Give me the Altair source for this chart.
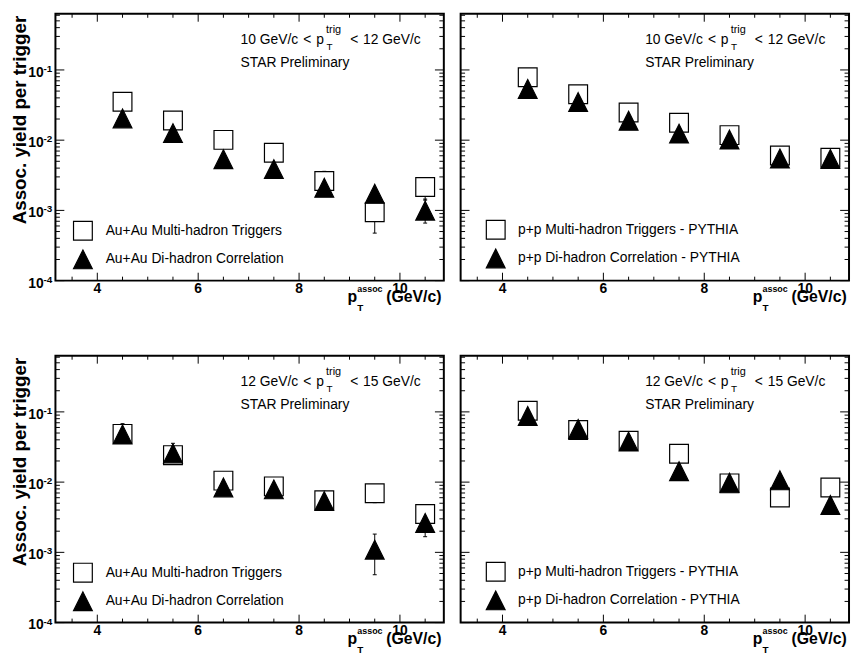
import altair as alt
import pandas as pd

# ---------------- data ----------------
pt_assoc = [4.5, 5.5, 6.5, 7.5, 8.5, 9.5, 10.5]

auau_1012_multi = [0.0353, 0.0191, 0.0101, 0.00663, 0.00262, 0.00094, 0.00215]
auau_1012_di = [0.0204, 0.0126, 0.00535, 0.00387, 0.0021, 0.00173, 0.00099]
pp_1012_multi = [0.0787, 0.045, 0.0248, 0.0177, 0.0118, 0.00604, 0.00562]
pp_1012_di = [0.0537, 0.0349, 0.0189, 0.0124, 0.0102, 0.00548, 0.0054]
auau_1215_multi = [0.0486, 0.0242, 0.0105, 0.0087, 0.00552, 0.00694, 0.00352]
auau_1215_di = [0.0478, 0.0256, 0.0084, 0.00788, 0.00537, 0.00109, 0.00262]
pp_1215_multi = [0.104, 0.0552, 0.0387, 0.0254, 0.0096, 0.00603, 0.0084]
pp_1215_di = [0.0873, 0.057, 0.0378, 0.0143, 0.0098, 0.0106, 0.00472]

# visible error bars (x, low, high)
auau_1012_err_x = [8.5, 9.5, 10.5, 10.5]
auau_1012_err_lo = [0.0019, 0.000475, 0.0014, 0.00066]
auau_1012_err_hi = [0.0036, 0.0013, 0.0029, 0.00145]
auau_1215_err_x = [4.5, 5.5, 8.5, 9.5, 9.5, 10.5, 10.5]
auau_1215_err_lo = [0.04, 0.02, 0.004, 0.0051, 0.00048, 0.0026, 0.00167]
auau_1215_err_hi = [0.068, 0.0357, 0.0074, 0.009, 0.00182, 0.0047, 0.00366]

x_major = [4, 6, 8, 10]
x_major_labels = ["4", "6", "8", "10"]
x_minor = [3.5, 4.5, 5, 5.5, 6.5, 7, 7.5, 8.5, 9, 9.5, 10.5]
y_major = [1e-4, 1e-3, 1e-2, 1e-1]
y_major_exp = ["-4", "-3", "-2", "-1"]
y_minor = [2e-4, 3e-4, 4e-4, 5e-4, 6e-4, 7e-4, 8e-4, 9e-4,
           2e-3, 3e-3, 4e-3, 5e-3, 6e-3, 7e-3, 8e-3, 9e-3,
           2e-2, 3e-2, 4e-2, 5e-2, 6e-2, 7e-2, 8e-2, 9e-2,
           2e-1, 3e-1, 4e-1, 5e-1, 6e-1]

auau_labels = ["Au+Au Multi-hadron Triggers", "Au+Au Di-hadron Correlation"]
pp_labels = ["p+p Multi-hadron Triggers - PYTHIA", "p+p Di-hadron Correlation - PYTHIA"]
trig_ranges = [("10", "12"), ("12", "15")]

# ---------------- style ----------------
W, H = 393, 270
XD = [3.17, 10.87]
YD = [1e-4, 0.63]
FONT = "Liberation Sans"
SQ = "M-1,-1L1,-1L1,1L-1,1Z"
TRI = "M0,-1L1,1L-1,1Z"
one = pd.DataFrame({"k": [0]})


def xs(field="x"):
    return alt.X(f"{field}:Q", scale=alt.Scale(domain=XD, nice=False, zero=False), axis=None)


def ys(field="y"):
    return alt.Y(f"{field}:Q", scale=alt.Scale(type="log", domain=YD, nice=False), axis=None)


def txt(s, x, y, size=14, bold=False, align="left", angle=0):
    return alt.Chart(one).mark_text(
        text=s, font=FONT, fontSize=size, fontWeight="bold" if bold else "normal",
        align=align, baseline="alphabetic", color="black", angle=angle
    ).encode(x=alt.value(x), y=alt.value(y))


def ticks():
    layers = []
    for vals, L in [(x_major, 8), (x_minor, 4)]:
        d = pd.DataFrame({"v": vals})
        layers.append(alt.Chart(d).mark_rule(color="black", strokeWidth=1).encode(
            x=xs("v"), y=alt.value(H), y2=alt.value(H - L)))
        layers.append(alt.Chart(d).mark_rule(color="black", strokeWidth=1).encode(
            x=xs("v"), y=alt.value(0), y2=alt.value(L)))
    for vals, L in [(y_major, 9), (y_minor, 4.5)]:
        d = pd.DataFrame({"v": vals})
        layers.append(alt.Chart(d).mark_rule(color="black", strokeWidth=1).encode(
            y=ys("v"), x=alt.value(0), x2=alt.value(L)))
        layers.append(alt.Chart(d).mark_rule(color="black", strokeWidth=1).encode(
            y=ys("v"), x=alt.value(W), x2=alt.value(W - L)))
    return layers


def panel(multi, di, labels, trig, err, left, leg_pos, x0):
    layers = ticks()
    if err is not None:
        de = pd.DataFrame({"x": err[0], "lo": err[1], "hi": err[2]})
        layers.append(alt.Chart(de).mark_rule(color="black", strokeWidth=1).encode(
            x=xs(), y=ys("lo"), y2="hi:Q"))
        for f in ["lo", "hi"]:
            layers.append(alt.Chart(de).mark_tick(color="black", orient="horizontal",
                                                  size=4, thickness=1, opacity=1).encode(
                x=xs(), y=ys(f)))
    dp = pd.DataFrame({"x": pt_assoc * 2, "y": multi + di,
                       "s": [labels[0]] * len(pt_assoc) + [labels[1]] * len(pt_assoc)})
    leg = alt.Legend(orient="none", legendX=leg_pos[0], legendY=leg_pos[1], direction="vertical",
                     title=None, labelFont=FONT, labelFontSize=14, labelColor="black",
                     labelLimit=400, symbolSize=361, symbolStrokeWidth=1.2,
                     symbolStrokeColor="black", symbolOpacity=1, rowPadding=4,
                     labelOffset=leg_pos[2], padding=0)
    layers.append(alt.Chart(dp).mark_point(filled=True, size=361, opacity=1,
                                           strokeWidth=1.2).encode(
        x=xs(), y=ys(),
        shape=alt.Shape("s:N", scale=alt.Scale(domain=labels, range=[SQ, TRI]), legend=leg),
        fill=alt.Fill("s:N", scale=alt.Scale(domain=labels, range=["white", "black"]), legend=leg),
        stroke=alt.Stroke("s:N", scale=alt.Scale(domain=labels, range=["black", "black"]), legend=leg),
        order=alt.Order("s:N", sort="descending" if labels[0] > labels[1] else "ascending"),
    ))
    # annotation
    layers += [
        txt(f"{trig[0]} GeV/c", x0, 30.5),
        txt("<", x0 + 63.5, 30.5),
        txt("p", x0 + 76.5, 30.5),
        txt("trig", x0 + 86.5, 19.3, size=11),
        txt("T", x0 + 87, 37, size=10),
        txt("<", x0 + 111, 30.5),
        txt(f"{trig[1]} GeV/c", x0 + 124, 30.5),
        txt("STAR Preliminary", x0, 54),
    ]
    # x tick labels and title
    dxl = pd.DataFrame({"v": x_major, "t": x_major_labels})
    layers.append(alt.Chart(dxl).mark_text(font=FONT, fontSize=14, fontWeight="bold", align="center",
                                           baseline="alphabetic", color="black").encode(
        x=xs("v"), y=alt.value(H + 12.5), text="t:N"))
    layers += [
        txt("(GeV/c)", W - 2.3, H + 22, size=16, bold=True, align="right"),
        txt("p", 305.3, H + 22, size=16, bold=True, align="right"),
        txt("assoc", 305.5, H + 12, size=9, bold=True),
        txt("T", 305.5, H + 31, size=10, bold=True),
    ]
    if left:
        dyl = pd.DataFrame({"v": y_major, "e": y_major_exp})
        layers.append(alt.Chart(dyl).mark_text(text="10", font=FONT, fontSize=14, fontWeight="bold",
                                               align="right", baseline="alphabetic", dy=7,
                                               color="black").encode(
            x=alt.value(-12), y=ys("v")))
        layers.append(alt.Chart(dyl).mark_text(font=FONT, fontSize=10, fontWeight="bold",
                                               align="left", baseline="alphabetic", dy=2,
                                               color="black").encode(
            x=alt.value(-12), y=ys("v"), text="e:N"))
        layers.append(txt("Assoc. yield per trigger", -30, 2, size=19, bold=True,
                          align="right", angle=270))
    return alt.layer(*layers).properties(width=W, height=H)


p11 = panel(auau_1012_multi, auau_1012_di, auau_labels, trig_ranges[0],
            (auau_1012_err_x, auau_1012_err_lo, auau_1012_err_hi), True, (17.3, 209, 12.5), 187.3)
p12 = panel(pp_1012_multi, pp_1012_di, pp_labels, trig_ranges[0], None, False, (25, 208, 12), 186.7)
p21 = panel(auau_1215_multi, auau_1215_di, auau_labels, trig_ranges[1],
            (auau_1215_err_x, auau_1215_err_lo, auau_1215_err_hi), True, (17.3, 209, 12.5), 187.3)
p22 = panel(pp_1215_multi, pp_1215_di, pp_labels, trig_ranges[1], None, False, (25, 208, 12), 186.7)

chart = alt.concat(p11, p12, p21, p22, columns=2, spacing={"row": 76, "column": 17},
                   bounds="flush")
chart = chart.resolve_scale(x="independent", y="independent", shape="independent",
                            fill="independent", stroke="independent").resolve_legend(
    shape="independent", fill="independent", stroke="independent")
chart = chart.properties(
    padding={"left": 2, "top": 0, "right": 0, "bottom": 0}, background="white"
).configure_view(stroke="black", strokeWidth=2, fill="white")

chart.save("out.html", embed_options={"renderer": "svg", "actions": False})
